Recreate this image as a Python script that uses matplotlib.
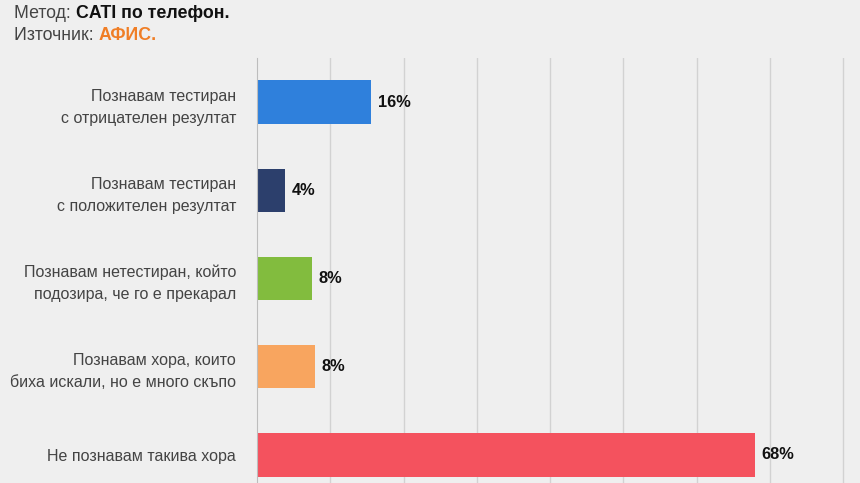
import matplotlib.pyplot as plt

# values
categories = [
    "Познавам тестиран\nс отрицателен резултат",
    "Познавам тестиран\nс положителен резултат",
    "Познавам нетестиран, който\nподозира, че го е прекарал",
    "Познавам хора, които\nбиха искали, но е много скъпо",
    "Не познавам такива хора",
]
values = [15.6, 3.8, 7.5, 7.9, 68.0]
value_labels = ["16%", "4%", "8%", "8%", "68%"]
colors = ["#2F80DC", "#2C3F6C", "#82BC3E", "#F8A55F", "#F4525E"]

method_label = "Метод: "
method_value = "CATI по телефон."
source_label = "Източник: "
source_value = "АФИС."

plt.rcParams['font.family'] = ['Liberation Sans', 'DejaVu Sans']
bg = "#EFEFEF"

fig = plt.figure(figsize=(8.6, 4.83), dpi=100, facecolor=bg)
ax = fig.add_axes([257 / 860, 1 - 499 / 483, 1 - 257 / 860, (499 - 58) / 483])
ax.set_facecolor(bg)

y = list(range(len(categories)))
ax.barh(y, values, height=0.49, color=colors, zorder=3)
for yi, v, lab in zip(y, values, value_labels):
    ax.text(v + 0.9, yi, lab, va='center', ha='left', fontsize=11.8,
            fontweight='bold', color='#111111', zorder=4)

ax.set_ylim(len(categories) - 0.5, -0.5)
ax.set_xlim(0, 82.3)
ax.set_yticks(y)
ax.set_yticklabels(categories, fontsize=11.5, color='#444444', linespacing=1.6)
ax.tick_params(axis='y', length=0, pad=15)
ax.set_xticks(range(10, 90, 10))
ax.tick_params(axis='x', length=0, labelbottom=False)
ax.grid(axis='x', color='#D2D2D2', linewidth=1, zorder=0)
for s in ['top', 'right', 'bottom']:
    ax.spines[s].set_visible(False)
ax.spines['left'].set_color('#BDBDBD')
ax.spines['left'].set_zorder(5)

# header lines
t1 = fig.text(14 / 860, 1 - 14 / 483, method_label, fontsize=12.8, color='#444444', va='center')
ax.annotate(method_value, xy=(1, 0), xycoords=t1, va='bottom', ha='left',
            fontsize=12.8, fontweight='bold', color='#111111', annotation_clip=False)
t2 = fig.text(14 / 860, 1 - 35 / 483, source_label, fontsize=12.8, color='#444444', va='center')
ax.annotate(source_value, xy=(1, 0), xycoords=t2, va='bottom', ha='left',
            fontsize=12.8, fontweight='bold', color='#F07E26', annotation_clip=False)

fig.savefig("out.png", dpi=100, facecolor=bg)
